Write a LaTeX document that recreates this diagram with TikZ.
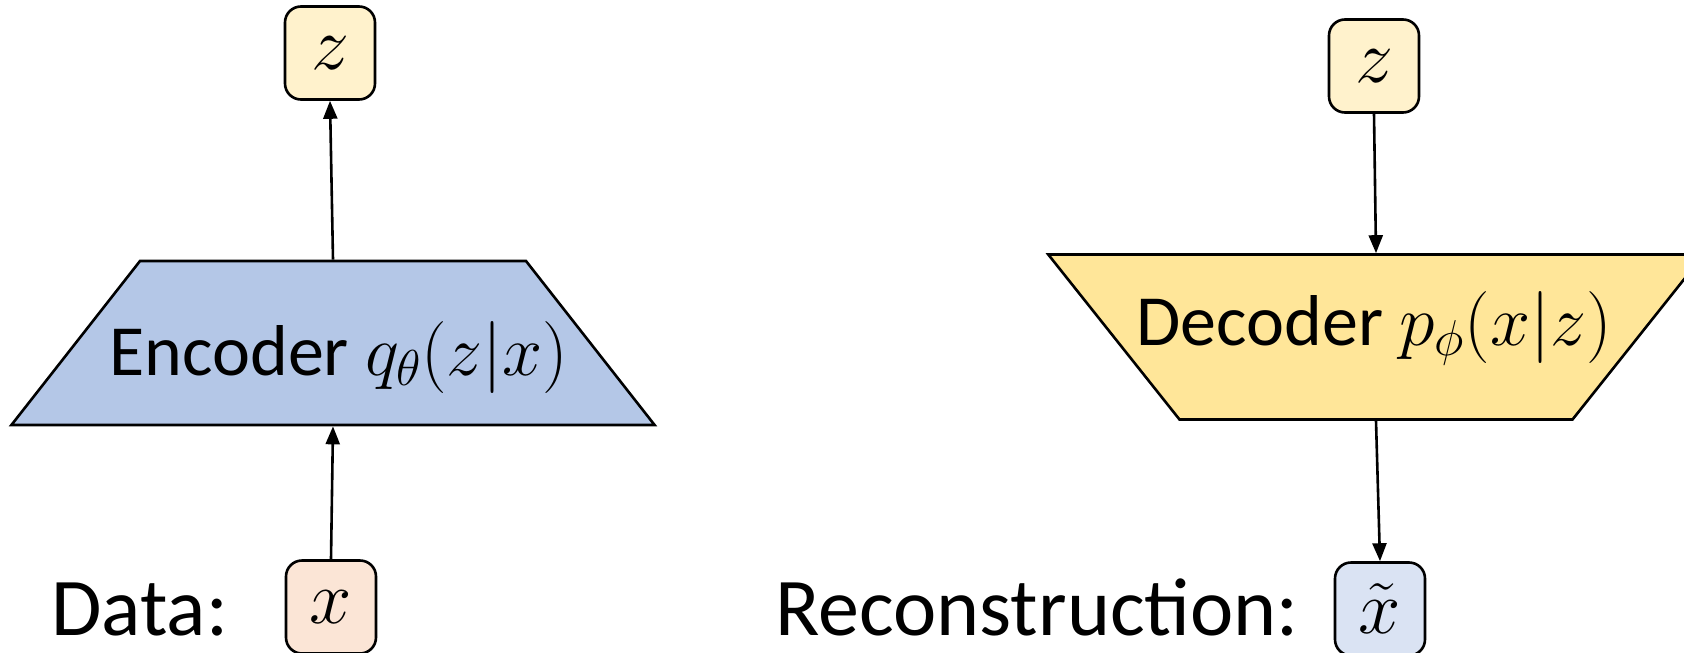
\RequirePackage{fix-cm}
\documentclass[tikz,border=0pt]{standalone}
\usepackage{fontspec}
\setmainfont{Carlito}
\usetikzlibrary{shapes.geometric,arrows.meta}

\definecolor{encblue}{HTML}{B4C7E7}
\definecolor{decyellow}{HTML}{FFE699}
\definecolor{latentfill}{HTML}{FFF2CC}
\definecolor{datafill}{HTML}{FBE5D6}
\definecolor{reconfill}{HTML}{DAE3F3}

\begin{document}
\begin{tikzpicture}[x=1pt, y=-1pt, line width=2.6pt,
  varbox/.style={draw, rounded corners=16pt, minimum width=90pt, minimum height=93pt,
    inner sep=0pt, font=\fontsize{76}{80}\selectfont},
  block/.style={draw, shape=trapezium},
  blocktext/.style={anchor=base, inner sep=0pt, font=\fontsize{72}{76}\selectfont},
  flow/.style={-{Triangle[length=18pt,width=14pt]}},
  caption/.style={anchor=base west, inner sep=0pt, font=\fontsize{82}{86}\selectfont}]
  \useasboundingbox (0,0) rectangle (1684,653);

  % Encoder side: data x goes up through the encoder to z
  \node[block, fill=encblue, trapezium angle=51.9, inner xsep=193pt,
    inner ysep=82pt] (enc) at (333,343) {};
  \node[blocktext] (enclabel) at (339,375) {Encoder $q_\theta(z|x)$};
  \node[varbox, fill=latentfill] (zenc) at (330,53) {$z$};
  \node[varbox, fill=datafill] (xdata) at (331,607) {$x$};
  \node[caption] (datalabel) at (50,635) {Data:};

  % Decoder side: z goes down through the decoder to the reconstruction
  \node[block, fill=decyellow, shape border rotate=180, trapezium angle=51.5,
    inner xsep=196.5pt, inner ysep=82.5pt] (dec) at (1376,337) {};
  \node[blocktext] (declabel) at (1374,345) {Decoder $p_\phi(x|z)$};
  \node[varbox, fill=latentfill] (zdec) at (1374,66) {$z$};
  \node[varbox, fill=reconfill] (xrecon) at (1380,609) {$\tilde{x}$};
  \node[caption, anchor=base east] (reconlabel) at (1300,635) {Reconstruction:};

  \draw[flow] (xdata.north) -- (enc.south);
  \draw[flow] (enc.north) -- (zenc.south);
  \draw[flow] (zdec.south) -- (dec.north);
  \draw[flow] (dec.south) -- (xrecon.north);
\end{tikzpicture}
\end{document}
